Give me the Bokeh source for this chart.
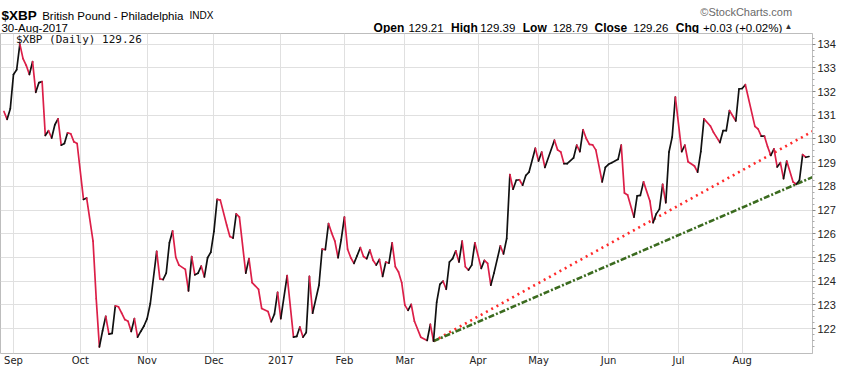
from bokeh.plotting import figure
from bokeh.layouts import column
from bokeh.models import FixedTicker, Range1d, ColumnDataSource, Legend, LegendItem
from bokeh.embed import file_html
from bokeh.resources import INLINE
from bokeh.core.properties import value

# ---------------- data (trading-day index since 1-Sep-2016, close) ----------------
days = [-3, -2, -1, 0, 1, 2, 3, 4, 5, 6, 7, 8, 9, 10, 11, 12, 13, 14, 15, 16,
        17, 18, 19, 20, 22, 23, 25, 26, 27, 28, 29, 30, 31, 32, 33, 34, 35, 36, 37, 38,
        39, 40, 41, 42, 43, 45, 46, 47, 48, 49, 50, 51, 52, 54, 55, 56, 57, 58, 59, 60,
        61, 62, 63, 64, 65, 67, 68, 69, 70, 71, 73, 74, 75, 77, 78, 80, 81, 82, 83, 84,
        86, 88, 89, 90, 91, 92, 93, 94, 96, 97, 98, 99, 100, 101, 102, 103, 104, 105, 106, 107,
        108, 109, 110, 111, 112, 113, 114, 115, 116, 117, 118, 119, 120, 121, 122, 123, 124, 125, 126, 128,
        130, 131, 132, 133, 134, 135, 136, 137, 138, 139, 140, 141, 142, 143, 144, 145, 147, 148, 149, 150,
        151, 153, 154, 155, 156, 157, 158, 159, 160, 161, 162, 164, 165, 166, 167, 170, 171, 172, 173, 174,
        176, 177, 178, 179, 180, 181, 182, 183, 185, 186, 187, 188, 190, 191, 192, 193, 195, 196, 197, 198,
        200, 201, 202, 203, 204, 205, 206, 207, 208, 210, 211, 212, 214, 215, 216, 217, 219, 220, 222, 223,
        224, 225, 227, 228, 229, 230, 233, 234, 235, 236, 237, 238, 239, 240, 241, 242, 243, 245, 246, 247,
        248, 249, 250]
close = [131.16, 130.83, 131.28, 132.72, 132.92, 134.00, 133.39, 133.11, 132.72, 133.26,
         131.97, 132.38, 132.42, 130.15, 130.35, 130.04, 130.60, 130.85, 129.74, 129.81,
         130.26, 130.22, 129.88, 129.81, 127.45, 127.51, 125.69, 123.26, 121.23, 121.91,
         122.52, 121.77, 121.80, 122.96, 122.92, 122.65, 122.38, 122.31, 121.88, 122.42,
         121.64, 121.88, 122.11, 122.42, 123.06, 125.26, 124.10, 124.07, 124.34, 125.62,
         126.12, 125.01, 124.68, 124.50, 123.59, 125.04, 124.27, 124.34, 124.64, 124.18,
         124.99, 125.22, 126.10, 127.45, 127.42, 126.37, 125.89, 125.82, 126.84, 126.70,
         124.34, 124.95, 123.94, 123.66, 122.85, 122.72, 122.29, 122.61, 123.53, 122.42,
         124.24, 121.64, 121.67, 122.07, 121.64, 121.84, 124.20, 122.65, 123.83, 125.35,
         125.33, 126.43, 126.03, 125.69, 124.99, 125.76, 126.70, 125.35, 124.99, 124.75,
         125.08, 125.42, 125.04, 124.95, 125.31, 124.88, 124.68, 124.92, 124.20, 124.81,
         124.76, 125.62, 124.61, 124.39, 123.94, 122.99, 122.77, 123.02, 122.31, 121.64,
         121.50, 122.18, 121.47, 123.12, 123.87, 124.00, 123.66, 124.81, 124.95, 125.28,
         124.81, 125.69, 124.61, 124.47, 124.68, 125.62, 124.54, 124.88, 124.75, 123.83,
         124.34, 125.49, 125.15, 125.80, 128.50, 127.88, 128.26, 128.28, 128.05, 128.46,
         128.60, 129.61, 129.07, 129.45, 128.80, 129.95, 129.54, 129.45, 128.96, 128.96,
         129.20, 129.74, 129.47, 130.39, 130.02, 129.77, 129.75, 129.54, 128.19, 128.80,
         128.93, 129.00, 129.14, 129.74, 127.72, 127.64, 126.70, 127.60, 127.62, 128.19,
         127.38, 126.47, 126.84, 127.04, 128.09, 127.31, 129.45, 130.08, 131.77, 129.47,
         129.74, 129.04, 128.86, 128.60, 129.47, 130.85, 130.55, 130.28, 129.85, 130.35,
         130.35, 131.20, 130.76, 132.11, 132.13, 132.29, 130.53, 130.42, 130.12, 130.12,
         129.67, 129.31, 129.58, 128.82, 129.00, 128.33, 129.07, 128.19, 128.09, 128.26,
         129.34, 129.23, 129.26]

month_start_days = [0, 21, 42, 63, 84, 104, 123, 146, 165, 187, 209, 229]
month_labels = ["Sep", "Oct", "Nov", "Dec", "2017", "Feb", "Mar", "Apr", "May", "Jun", "Jul", "Aug"]
y_ticks = [122, 123, 124, 125, 126, 127, 128, 129, 130, 131, 132, 133, 134]

trend_days = [132, 251.1]
red_trend = [121.47, 130.32]
green_trend = [121.47, 128.39]

symbol = "$XBP"
name = "British Pound - Philadelphia"
exchange = "INDX"
date_text = "30-Aug-2017"
quote_labels = ["Open", "High", "Low", "Close", "Chg"]
quote_values = ["129.21", "129.39", "128.79", "129.26", "+0.03 (+0.02%)"]
legend_text = "$XBP (Daily) 129.26"
credit = "\u00a9StockCharts.com"

W = 838
HEADER_H = 33
MAIN_H = 335

# ---------------- header strip (pixel-like coordinates, y downward) ----------------
hdr = figure(width=W, height=HEADER_H, output_backend="svg", toolbar_location=None, tools="",
             x_range=Range1d(0, W), y_range=Range1d(HEADER_H, 0),
             x_axis_type=None, y_axis_type=None,
             min_border_left=0, min_border_right=0, min_border_top=0, min_border_bottom=0)
hdr.outline_line_color = None
hdr.xgrid.visible = False
hdr.ygrid.visible = False

hx, hy, ht, hs, hw, hc, ha = [], [], [], [], [], [], []
def put(x, y, t, size, weight="normal", color="#000000", align="left"):
    hx.append(x); hy.append(y); ht.append(t); hs.append(size); hw.append(weight)
    hc.append(color); ha.append(align)

put(1, 15, symbol, "13.5px", "bold")
put(43, 15, name, "11.5px")
put(195, 15, exchange, "10px")
put(1, 27, date_text, "11.5px")
put(817, 11, credit, "11px", color="#6a6a6a", align="right")
label_x = [385, 465, 539, 613, 697]
value_x = [421, 495, 570, 653, 725]
for lx, vx, l, v in zip(label_x, value_x, quote_labels, quote_values):
    put(lx, 27, l, "12px", "bold")
    put(vx, 27, v, "11.5px")
put(809, 26, "\u25b2", "8px", color="#333333")

hsrc = ColumnDataSource(dict(x=hx, y=hy, text=ht, size=hs, weight=hw, color=hc, align=ha))
hdr.text("x", "y", text="text", source=hsrc, text_font=value("Liberation Sans"),
         text_font_size="size", text_font_style="weight", text_color="color",
         text_align="align", text_baseline="alphabetic")

# ---------------- main chart ----------------
p = figure(width=W, height=MAIN_H, output_backend="svg", toolbar_location=None, tools="",
           x_range=Range1d(-4.08, 251.1), y_range=Range1d(120.95, 134.45),
           y_axis_location="right",
           min_border_left=0, min_border_right=24, min_border_top=0, min_border_bottom=14)
p.background_fill_color = "white"
p.border_fill_color = "white"
p.outline_line_color = "#bdbdbd"

p.xgrid.ticker = FixedTicker(ticks=month_start_days)
p.ygrid.ticker = FixedTicker(ticks=y_ticks)
p.xgrid.grid_line_color = "#e0e0e0"
p.ygrid.grid_line_color = "#e0e0e0"

xa = p.xaxis[0]
xa.ticker = FixedTicker(ticks=month_start_days)
xa.major_label_overrides = {d: l for d, l in zip(month_start_days, month_labels)}
xa.major_tick_out = 0
xa.major_tick_in = 0
xa.minor_tick_out = 0
xa.axis_line_color = None
xa.major_label_standoff = 1
xa.major_label_text_font = "DejaVu Sans"
xa.major_label_text_font_size = "10px"
xa.major_label_text_color = "#222222"

minor = [t + k * 0.25 for t in range(121, 135) for k in (1, 2, 3)]
ya = p.yaxis[0]
ya.ticker = FixedTicker(ticks=y_ticks, minor_ticks=minor)
ya.major_tick_out = 3
ya.major_tick_in = 0
ya.minor_tick_out = 2
ya.minor_tick_in = 0
ya.major_tick_line_color = "#888888"
ya.minor_tick_line_color = "#aaaaaa"
ya.axis_line_color = "#bdbdbd"
ya.major_label_standoff = 2
ya.major_label_text_font = "Liberation Sans"
ya.major_label_text_font_size = "11px"
ya.major_label_text_color = "#222222"

# trend lines
p.line(trend_days, red_trend, line_color="#ff2a2a", line_width=2.6, line_dash="2 4")
p.line(trend_days, green_trend, line_color="#3b6b1f", line_width=2.6, line_dash="6 2 2 2")

# price line: black when rising, crimson when falling
x0, x1 = days[:-1], days[1:]
y0, y1 = close[:-1], close[1:]
colors = ["#111111" if b >= a else "#dc1f48" for a, b in zip(y0, y1)]
src = ColumnDataSource(dict(x0=x0, y0=y0, x1=x1, y1=y1, color=colors))
p.segment("x0", "y0", "x1", "y1", source=src, line_color="color", line_width=1.7, line_cap="round")

# legend
key = p.line([], [], line_color="#111111", line_width=2.5)
leg = Legend(items=[LegendItem(label=legend_text, renderers=[key])], location="top_left",
             margin=0, padding=1, spacing=0, border_line_color=None, background_fill_alpha=0,
             glyph_width=10, glyph_height=12, label_height=12, label_standoff=6,
             label_text_font="DejaVu Sans Mono", label_text_font_size="11px",
             label_text_color="#111111")
p.add_layout(leg)

open("out.html", "w").write(file_html(column(hdr, p, spacing=0), INLINE))
